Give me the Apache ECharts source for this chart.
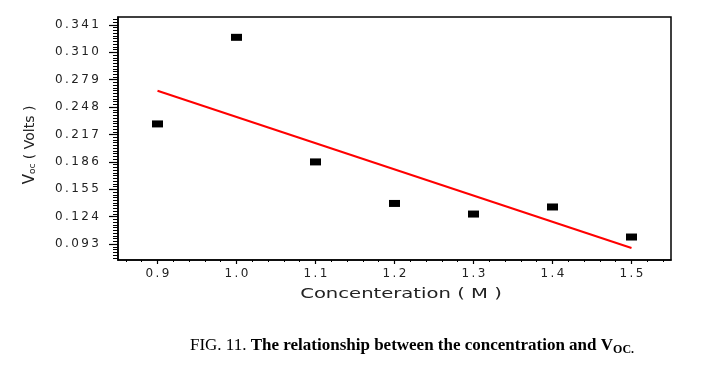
<!DOCTYPE html>
<html>
<head>
<meta charset="utf-8">
<script src="https://cdn.jsdelivr.net/npm/echarts@6/dist/echarts.min.js"></script>
<style>html,body{margin:0;padding:0;background:#fff}#c{width:728px;height:368px}</style>
</head>
<body>
<div id="c"></div>
<script>
// Data
var concentration = [0.9, 1.0, 1.1, 1.2, 1.3, 1.4, 1.5];
var vocValues = [0.229, 0.327, 0.186, 0.139, 0.127, 0.135, 0.101];
// Fitted line endpoints as drawn in the reference
var fitX = [0.9, 1.5];
var fitY = [0.2666, 0.0885];
// Tick labels
var yTicks = [0.093, 0.124, 0.155, 0.186, 0.217, 0.248, 0.279, 0.310, 0.341];
var xTicks = [0.9, 1.0, 1.1, 1.2, 1.3, 1.4, 1.5];
var xTitle = 'Concenteration ( M )';
var captionA = 'FIG. 11. ';
var captionB = 'The relationship between the concentration and V';
var captionSub = 'OC.';

var yMin = 0.075, yMax = 0.35, xMin = 0.85, xMax = 1.55;
var yMinor = [];
for (var k = -5; k <= 82; k++) yMinor.push(+(0.093 + k * 0.0031).toFixed(5));
var xMinor = [];
for (var j = 0; j <= 34; j++) xMinor.push(+(0.86 + j * 0.02).toFixed(3));

function spaced(s) { return s.split('').join('\u2009'); }

var chart = echarts.init(document.getElementById('c'), null, {renderer: 'canvas'});
var pts = concentration.map(function (x, i) { return [x, vocValues[i]]; });
var line = fitX.map(function (x, i) { return [x, fitY[i]]; });

chart.setOption({
  backgroundColor: '#fff',
  animation: false,
  grid: {left: 118, right: 57, top: 17, bottom: 108, show: true, borderColor: '#000', borderWidth: 1.5, backgroundColor: 'transparent'},
  xAxis: [{
    type: 'value', min: xMin, max: xMax, position: 'bottom',
    axisLine: {show: true, lineStyle: {color: '#000', width: 1.5}},
    splitLine: {show: false},
    axisTick: {show: true, inside: false, length: 4, customValues: xTicks, lineStyle: {color: '#000', width: 1.2}},
    axisLabel: {show: true, customValues: xTicks, margin: 8, color: '#222', fontFamily: 'DejaVu Sans', fontSize: 12,
      formatter: function (v) { return spaced(v.toFixed(1)); }}
  }, {
    type: 'value', min: xMin, max: xMax, position: 'bottom',
    axisLine: {show: false}, splitLine: {show: false}, axisLabel: {show: false},
    axisTick: {show: true, inside: false, length: 2, customValues: xMinor, lineStyle: {color: '#000', width: 1}}
  }],
  yAxis: [{
    type: 'value', min: yMin, max: yMax, position: 'left',
    axisLine: {show: true, lineStyle: {color: '#000', width: 1.5}},
    splitLine: {show: false},
    axisTick: {show: true, inside: false, length: 9, customValues: yTicks, lineStyle: {color: '#000', width: 1.2}},
    axisLabel: {show: true, customValues: yTicks, margin: 19, color: '#222', fontFamily: 'DejaVu Sans', fontSize: 12,
      formatter: function (v) { return spaced(v.toFixed(3)); }}
  }, {
    type: 'value', min: yMin, max: yMax, position: 'left',
    axisLine: {show: false}, splitLine: {show: false}, axisLabel: {show: false},
    axisTick: {show: true, inside: false, length: 5, customValues: yMinor, lineStyle: {color: '#000', width: 1}}
  }],
  series: [{
    type: 'line', data: line, showSymbol: false, symbol: 'none',
    lineStyle: {color: '#ff0000', width: 2}, z: 2
  }, {
    type: 'scatter', data: pts, symbol: 'rect', symbolSize: [11, 7],
    itemStyle: {color: '#000', opacity: 1}, z: 3
  }],
  graphic: [{
    type: 'text', x: 401, y: 294, scaleX: 1.4,
    style: {text: xTitle, font: '14px "DejaVu Sans"', fill: '#222', align: 'center', verticalAlign: 'middle'}
  }, {
    type: 'text', x: 30, y: 145, rotation: Math.PI / 2,
    style: {
      text: '{v|V}{s|oc}{n| ( Volts )}',
      align: 'center', verticalAlign: 'middle',
      rich: {
        v: {font: '15px "DejaVu Sans"', fill: '#222'},
        s: {font: '9px "DejaVu Sans"', fill: '#222', verticalAlign: 'bottom', padding: [6, 0, 0, 0]},
        n: {font: '14px "DejaVu Sans"', fill: '#222'}
      }
    }
  }, {
    type: 'text', x: 412, y: 346,
    style: {
      text: '{a|' + captionA + '}{b|' + captionB + '}{c|' + captionSub + '}',
      align: 'center', verticalAlign: 'middle',
      rich: {
        a: {font: '17px "Liberation Serif"', fill: '#000'},
        b: {font: 'bold 17px "Liberation Serif"', fill: '#000'},
        c: {font: 'bold 12px "Liberation Serif"', fill: '#000', padding: [8, 0, 0, 0]}
      }
    }
  }]
});
</script>
</body>
</html>
